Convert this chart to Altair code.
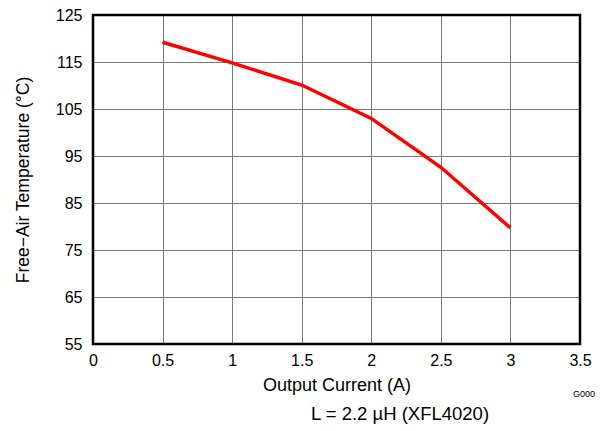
import altair as alt
import pandas as pd

current = [0.5, 1.0, 1.5, 2.0, 2.5, 3.0]
temperature = [119.2, 114.8, 110.1, 103.0, 92.6, 79.7]

x_ticks = [0, 0.5, 1, 1.5, 2, 2.5, 3, 3.5]
y_ticks = [55, 65, 75, 85, 95, 105, 115, 125]

df = pd.DataFrame({"current": current, "temp": temperature})

FONT = "Liberation Sans"
W, H = 487, 329

line = alt.Chart(df).mark_line(color="#ff0000", strokeWidth=3.5).encode(
    x=alt.X("current:Q",
            scale=alt.Scale(domain=[0, 3.5], nice=False, zero=False),
            axis=alt.Axis(values=x_ticks, title="Output Current (A)",
                          labelExpr="datum.value == 0 ? '0' : format(datum.value, '.1~f')",
                          grid=True, gridColor="#7a7a7a", gridWidth=1,
                          ticks=False, domain=False, labelPadding=8, labelFlush=False,
                          labelFontSize=16, titleFontSize=18, titlePadding=8,
                          labelColor="#000", titleColor="#000",
                          labelFont=FONT, titleFont=FONT, titleFontWeight="normal")),
    y=alt.Y("temp:Q",
            scale=alt.Scale(domain=[55, 125], nice=False, zero=False),
            axis=alt.Axis(values=y_ticks, title="Free\u2212Air Temperature (°C)",
                          grid=True, gridColor="#7a7a7a", gridWidth=1,
                          ticks=False, domain=False, labelPadding=11, labelFlush=False,
                          labelFontSize=16, titleFontSize=17.5, titlePadding=23,
                          labelColor="#000", titleColor="#000",
                          labelFont=FONT, titleFont=FONT, titleFontWeight="normal")),
)

frame = alt.Chart(pd.DataFrame({"f": [0]})).mark_rect(
    fill=None, stroke="#000", strokeWidth=2.5
).encode(x=alt.value(0), x2=alt.value(W), y=alt.value(0), y2=alt.value(H))

g000 = alt.Chart(pd.DataFrame({"t": ["G000"]})).mark_text(
    font=FONT, fontSize=9, align="right", baseline="middle", color="#000"
).encode(text="t:N", x=alt.value(W + 15), y=alt.value(H + 50))

caption = alt.Chart(pd.DataFrame({"t": ["L = 2.2 µH (XFL4020)"]})).mark_text(
    font=FONT, fontSize=18.5, align="center", baseline="middle", color="#000"
).encode(text="t:N", x=alt.value(307), y=alt.value(H + 70))

chart = alt.layer(line, frame, g000, caption).properties(
    width=W, height=H,
    autosize=alt.AutoSizeParams(type="none"),
    padding={"left": 85, "top": 7, "right": 16, "bottom": 86},
).configure_view(stroke=None).configure(background="white")

chart.save("out.html", embed_options={"renderer": "svg", "actions": False})
